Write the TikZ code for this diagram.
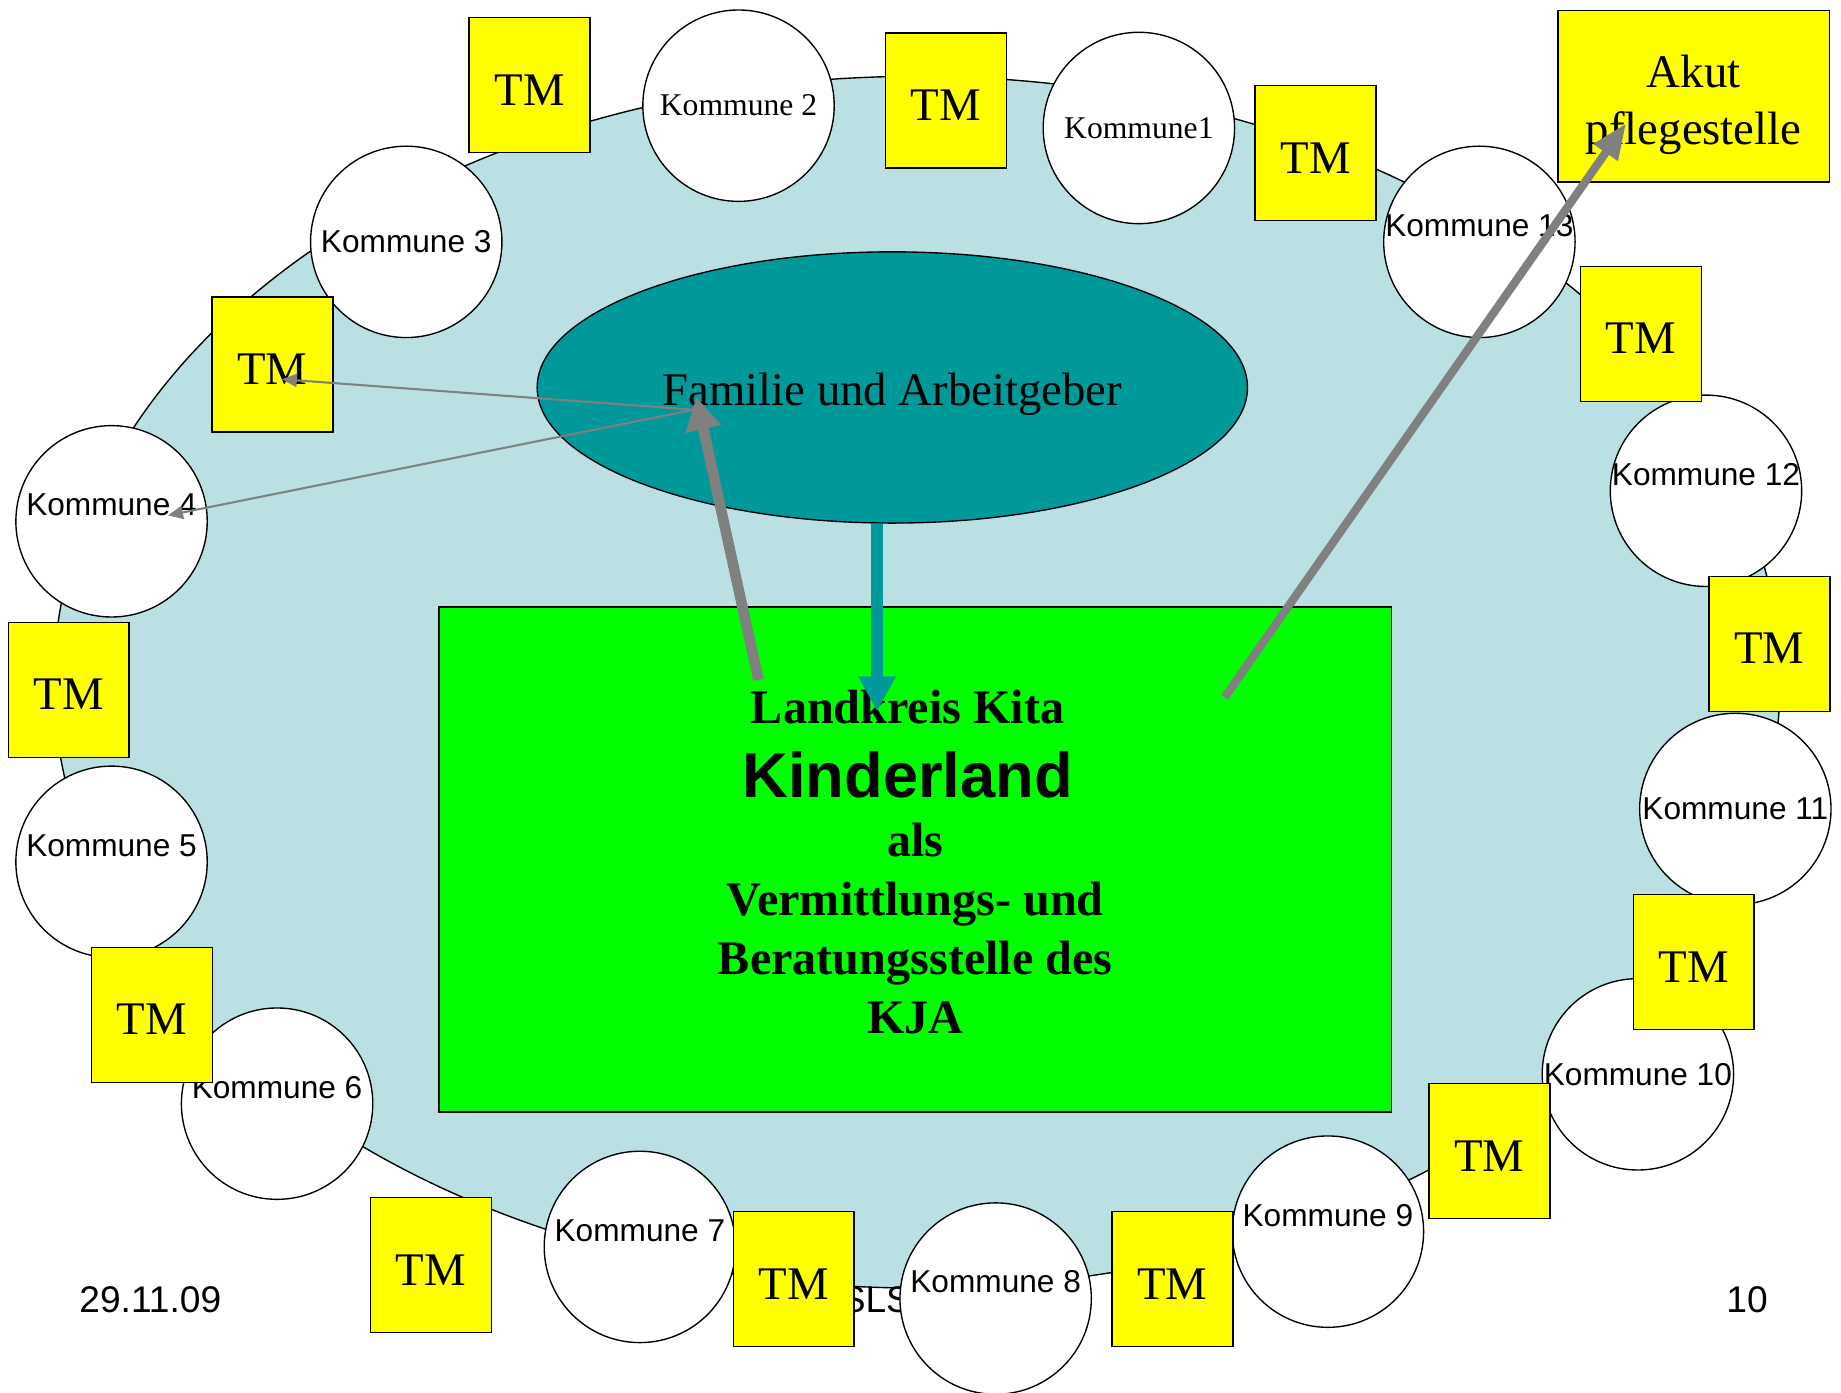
\documentclass[tikz,border=0pt]{standalone}
\usepackage{fontspec}
\setmainfont{Liberation Serif}
\setsansfont{Liberation Sans}
\usepackage{tikz}
\usetikzlibrary{shapes.geometric}
\usetikzlibrary{arrows.meta}
\definecolor{hellblau}{RGB}{187,224,227}
\definecolor{petrol}{RGB}{0,153,153}
\definecolor{gruen}{RGB}{0,255,0}
\definecolor{gelb}{RGB}{255,255,0}
\definecolor{grau}{RGB}{128,128,128}

\begin{document}
\begin{tikzpicture}
[
x=0.3mm, y=-0.3mm,
kommune-a/.style={circle,draw,fill=white,line width=1pt,minimum size=48.9mm,inner sep=0pt},
tm-a/.style={rectangle,draw,fill=gelb,line width=1pt,minimum width=30.9mm,minimum height=34.5mm,text height=29pt,font=\fontsize{34}{40}\selectfont},
text-a/.style={font=\sffamily\fontsize{23}{27}\selectfont},
text-b/.style={font=\fontsize{23}{27}\selectfont},
text-up/.style={yshift=12pt},
fuss-a/.style={font=\sffamily\fontsize{27}{32}\selectfont},
pfeil-a/.style={draw=grau,line width=1.5pt,-{Triangle[length=11pt,width=9.5pt]}},
pfeil-b/.style={draw=grau,line width=7.7pt,-{Triangle[length=24pt,width=25pt]}},
pfeil-c/.style={draw=petrol,line width=8.5pt,-{Triangle[length=25.6pt,width=25.6pt]}},
pfeil-d/.style={draw=grau,line width=6pt,-{Triangle[length=26pt,width=20pt]}},
]
\useasboundingbox (0,0) rectangle (1568,1185.6);
\node (kreis) [ellipse,draw,fill=hellblau,line width=1pt,minimum width=441mm,minimum height=309.6mm,inner sep=0pt] at (781,581) {};
\node (datum) [fuss-a] at (128,1107)  {29.11.09};
\node (sls)   [fuss-a] at (746,1107)  {SLS};
\node (seite) [fuss-a] at (1488,1107) {10};
\node (fam)  [ellipse,draw,fill=petrol,line width=1pt,minimum width=181.5mm,minimum height=69.3mm,inner sep=0pt,text height=33pt,
              font=\fontsize{34}{40}\selectfont] at (760,330) {Familie und Arbeitgeber};
\node (kita) [rectangle,draw,fill=gruen,line width=1pt,minimum width=243.3mm,minimum height=129mm,align=center,text height=254pt,
              font=\bfseries\fontsize{35}{43}\selectfont] at (779.5,732) {Landkreis Kita\rule{11pt}{0pt}\\[11pt]
                                                                          {\sffamily\fontsize{46}{54}\selectfont Kinderland}\rule{11pt}{0pt}\\
                                                                          als\\
                                                                          Vermittlungs- und\\
                                                                          Beratungsstelle des\\
                                                                          KJA};
\node (k1)  [kommune-a, label={[text-b]center:Kommune1}]           at (970,109)  {};
\node (k2)  [kommune-a, label={[text-b]center:Kommune 2}]          at (629,90)   {};
\node (k3)  [kommune-a, label={[text-a]center:Kommune 3}]          at (346,206)  {};
\node (k4)  [kommune-a, label={[text-a,text-up]center:Kommune 4}]  at (95,444)   {};
\node (k5)  [kommune-a, label={[text-a,text-up]center:Kommune 5}]  at (95,734)   {};
\node (k6)  [kommune-a, label={[text-a,text-up]center:Kommune 6}]  at (236,940)  {};
\node (k7)  [kommune-a, label={[text-a,text-up]center:Kommune 7}]  at (545,1062) {};
\node (k8)  [kommune-a, label={[text-a,text-up]center:Kommune 8}]  at (848,1106) {};
\node (k9)  [kommune-a, label={[text-a,text-up]center:Kommune 9}]  at (1131,1049) {};
\node (k10) [kommune-a, label={[text-a]center:Kommune 10}]         at (1395,915) {};
\node (k11) [kommune-a, label={[text-a]center:Kommune 11}]         at (1478,689) {};
\node (k12) [kommune-a, label={[text-a,text-up]center:Kommune 12}] at (1453,418) {};
\node (k13) [kommune-a, label={[text-a,text-up]center:Kommune 13}] at (1260,206) {};
\node (tm1)  [tm-a] at (451,72.5)    {TM};
\node (tm2)  [tm-a] at (805.5,85.5)  {TM};
\node (tm3)  [tm-a] at (1120.5,130.5) {TM};
\node (tm4)  [tm-a] at (232,310.5)   {TM};
\node (tm5)  [tm-a] at (58.5,587.5)  {TM};
\node (tm6)  [tm-a] at (129.5,864.5) {TM};
\node (tm7)  [tm-a] at (367,1077.5)  {TM};
\node (tm8)  [tm-a] at (676,1089.5)  {TM};
\node (tm9)  [tm-a] at (998.5,1089.5) {TM};
\node (tm10) [tm-a] at (1268.5,980.5) {TM};
\node (tm11) [tm-a] at (1442.5,819.5) {TM};
\node (tm12) [tm-a] at (1507,548.5)  {TM};
\node (tm13) [tm-a] at (1397.5,284.5) {TM};
\node (akut) [rectangle,draw,fill=gelb,line width=1pt,minimum width=69.3mm,minimum height=43.8mm,align=center,text height=78pt,
              font=\fontsize{34}{42}\selectfont] at (1442.5,82) {Akut\\pflegestelle};
\coordinate (fam-a)  at (593,338);
\coordinate (fam-b)  at (591,349);
\coordinate (kita-a) at (646,579);
\coordinate (kita-b) at (1043,594);
\coordinate (kita-c) at (747,606);
\coordinate (tm4-a)  at (240,323);
\coordinate (k4-a)   at (143,439);
\coordinate (akut-a) at (1385,105);
\draw [pfeil-c] ([xshift=-3.9mm]fam.south) -- (kita-c);
\draw [pfeil-b] (kita-a) -- (fam-a);
\draw [pfeil-a] (fam-b) -- (tm4-a);
\draw [pfeil-a] (fam-b) -- (k4-a);
\draw [pfeil-d] (kita-b) -- (akut-a);
\end{tikzpicture}
\end{document}
